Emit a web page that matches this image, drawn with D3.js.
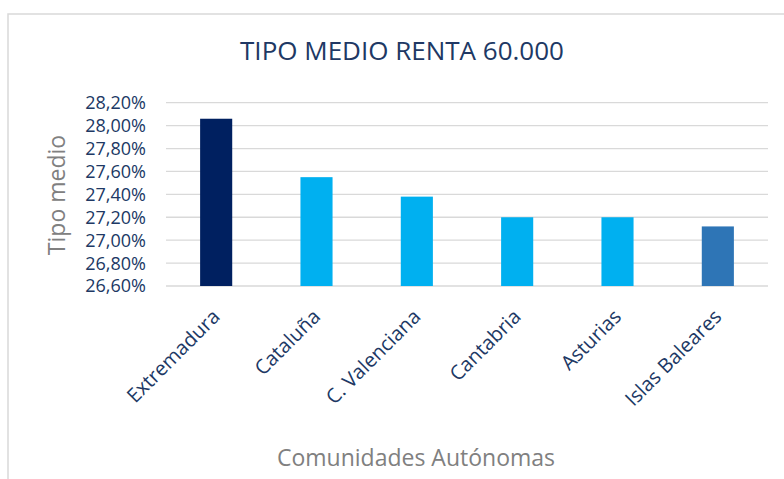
<!DOCTYPE html>
<html>
<head>
<meta charset="utf-8">
<script src="https://d3js.org/d3.v7.min.js"></script>
<style>
  body { margin: 0; background: #fff; }
  svg { display: block; font-family: "Open Sans", "Noto Sans", sans-serif; }
</style>
</head>
<body>
<div id="chart"></div>
<script>
// data
var regions = ["Extremadura", "Cataluña", "C. Valenciana", "Cantabria", "Asturias", "Islas Baleares"];
var tipoMedio = [28.06, 27.55, 27.38, 27.20, 27.20, 27.12];
var barColors = ["#002060", "#00b0f0", "#00b0f0", "#00b0f0", "#00b0f0", "#2e75b6"];
var yTicks = [26.6, 26.8, 27.0, 27.2, 27.4, 27.6, 27.8, 28.0, 28.2];

var width = 784, height = 479;
var plot = {left: 166, right: 768, top: 102.7, bottom: 286};

var svg = d3.select("#chart").append("svg")
    .attr("width", width)
    .attr("height", height);

// chart frame (only left and top edges show)
svg.append("rect")
    .attr("x", 8).attr("y", 14)
    .attr("width", 900).attr("height", 600)
    .attr("fill", "none")
    .attr("stroke", "#d9d9d9")
    .attr("stroke-width", 1.5);

var x = d3.scaleBand()
    .domain(regions)
    .range([plot.left, plot.right])
    .paddingInner(0.68)
    .paddingOuter(0.34);

var y = d3.scaleLinear()
    .domain([26.6, 28.2])
    .range([plot.bottom, plot.top]);

// gridlines
svg.append("g")
  .selectAll("line")
  .data(yTicks)
  .join("line")
    .attr("x1", plot.left).attr("x2", plot.right)
    .attr("y1", d => y(d)).attr("y2", d => y(d))
    .attr("stroke", "#d9d9d9")
    .attr("stroke-width", 1.3);

// y tick labels
var fmt = d => d.toFixed(2).replace(".", ",") + "%";
svg.append("g")
  .selectAll("text")
  .data(yTicks)
  .join("text")
    .attr("x", 146)
    .attr("y", d => y(d))
    .attr("dy", "0.36em")
    .attr("text-anchor", "end")
    .attr("fill", "#203864")
    .style("font-size", "18px")
    .text(fmt);

// bars
svg.append("g")
  .selectAll("rect")
  .data(regions)
  .join("rect")
    .attr("x", d => x(d))
    .attr("width", x.bandwidth())
    .attr("y", (d, i) => y(tipoMedio[i]))
    .attr("height", (d, i) => y(26.6) - y(tipoMedio[i]))
    .attr("fill", (d, i) => barColors[i]);

// x labels, rotated
svg.append("g")
  .selectAll("text")
  .data(regions)
  .join("text")
    .attr("transform", d => "translate(" + (x(d) + x.bandwidth() / 2 + 5) + ",318) rotate(-45)")
    .attr("text-anchor", "end")
    .attr("fill", "#203864")
    .style("font-size", "20px")
    .text(d => d);

// title
svg.append("text")
    .attr("x", 402)
    .attr("y", 60)
    .attr("text-anchor", "middle")
    .attr("fill", "#203864")
    .style("font-size", "26px")
    .text("TIPO MEDIO RENTA 60.000");

// axis titles
svg.append("text")
    .attr("transform", "translate(65,195) rotate(-90)")
    .attr("text-anchor", "middle")
    .attr("fill", "#808080")
    .style("font-size", "23px")
    .text("Tipo medio");

svg.append("text")
    .attr("x", 416)
    .attr("y", 466)
    .attr("text-anchor", "middle")
    .attr("fill", "#808080")
    .style("font-size", "23px")
    .text("Comunidades Autónomas");
</script>
</body>
</html>
